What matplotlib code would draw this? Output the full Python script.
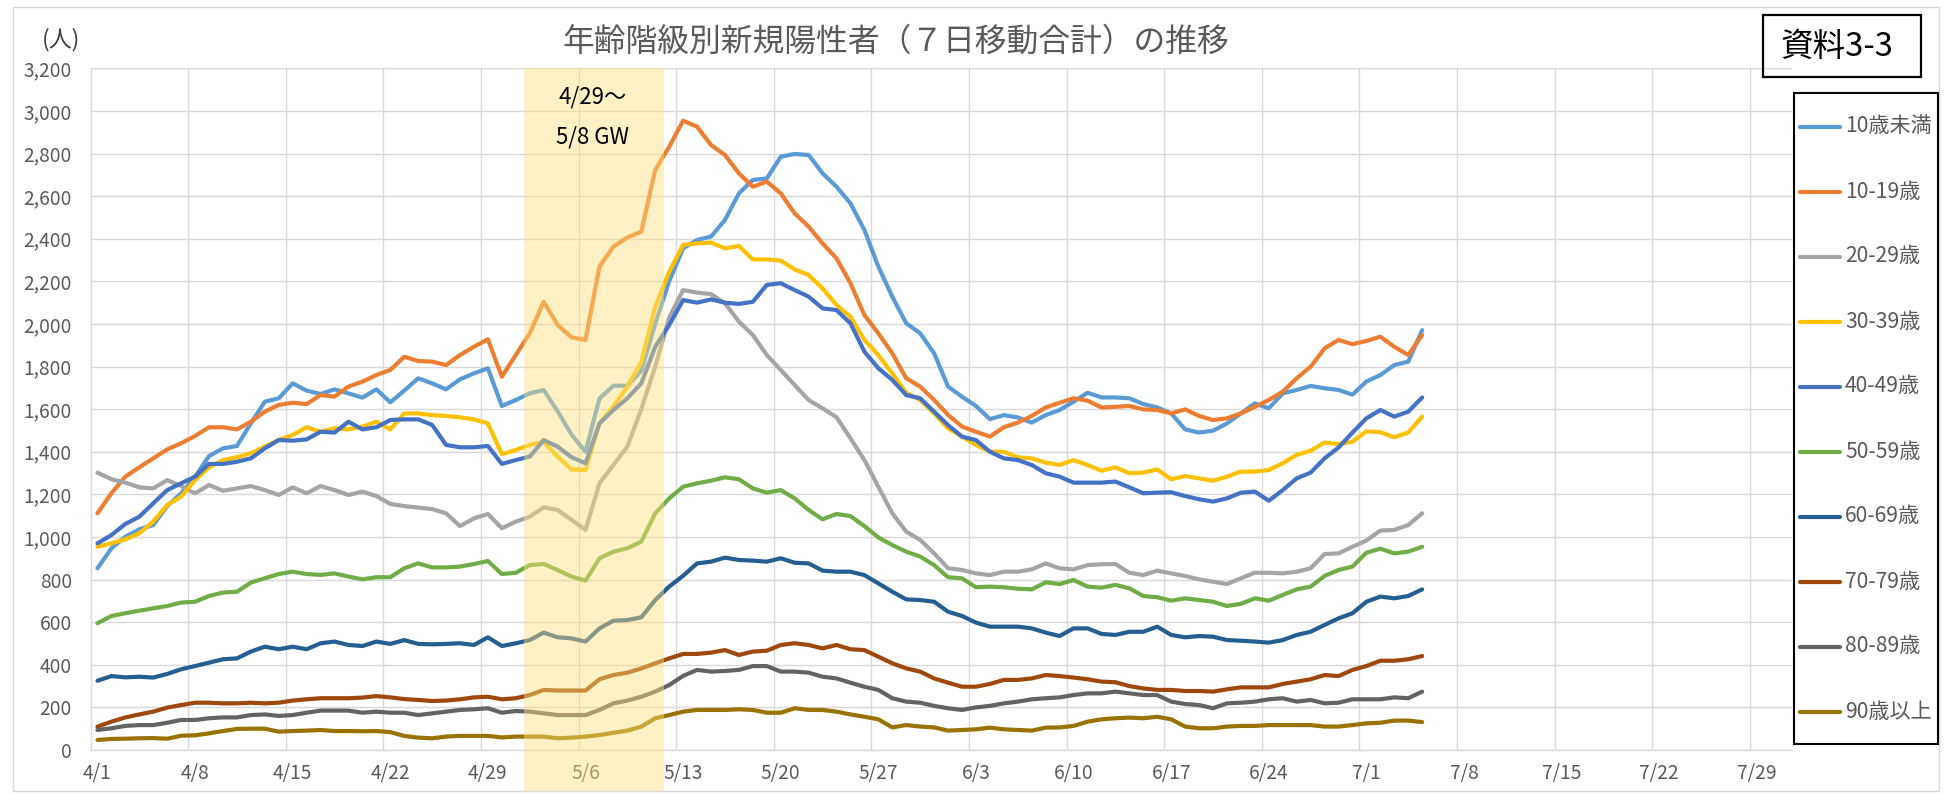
import matplotlib
matplotlib.use("Agg")
import matplotlib.pyplot as plt
from matplotlib.patches import Rectangle
from matplotlib.lines import Line2D
from matplotlib.ticker import FuncFormatter
from matplotlib.transforms import blended_transform_factory
import numpy as np
import pandas as pd

plt.rcParams['font.family'] = ['Noto Sans CJK JP', 'DejaVu Sans']

# ---------------- data ----------------
title = "年齢階級別新規陽性者（７日移動合計）の推移"
unit_label = "(人)"
doc_label = "資料3-3"
gw_label_1 = "4/29～"
gw_label_2 = "5/8 GW"
start_date = "2021-04-01"
axis_end_date = "2021-07-31"

labels = ["10歳未満", "10-19歳", "20-29歳", "30-39歳", "40-49歳",
          "50-59歳", "60-69歳", "70-79歳", "80-89歳", "90歳以上"]
colors = ["#5B9BD5", "#ED7D31", "#A5A5A5", "#FFC000", "#4472C4",
          "#70AD47", "#255E91", "#9E480E", "#636363", "#997300"]

age_u10 = [853, 947, 1001, 1036, 1056, 1145, 1205, 1283, 1380, 1416, 1427,
           1533, 1635, 1651, 1721, 1687, 1671, 1693, 1674, 1654, 1693,
           1632, 1687, 1745, 1721, 1693, 1740, 1768, 1792, 1615, 1643,
           1674, 1690, 1590, 1480, 1400, 1650, 1710, 1710, 1780, 2000,
           2200, 2355, 2394, 2410, 2488, 2613, 2676, 2683, 2785, 2798,
           2793, 2707, 2644, 2566, 2441, 2269, 2128, 2003, 1956, 1862,
           1706, 1658, 1615, 1553, 1572, 1561, 1537, 1572, 1596, 1635,
           1677, 1655, 1655, 1651, 1624, 1608, 1580, 1505, 1490, 1499,
           1533, 1580, 1627, 1604, 1674, 1690, 1709, 1698, 1690, 1668,
           1730, 1760, 1807, 1823, 1971]
age_10s = [1111, 1205, 1283, 1327, 1369, 1411, 1440, 1474, 1515, 1515, 1505,
           1541, 1588, 1620, 1630, 1624, 1666, 1659, 1706, 1729, 1760,
           1784, 1846, 1826, 1823, 1807, 1854, 1893, 1928, 1752, 1854,
           1956, 2104, 1995, 1937, 1925, 2269, 2363, 2406, 2433, 2723,
           2832, 2954, 2926, 2840, 2793, 2707, 2644, 2668, 2613, 2519,
           2457, 2378, 2308, 2191, 2042, 1956, 1862, 1745, 1706, 1643,
           1573, 1518, 1494, 1471, 1515, 1537, 1568, 1608, 1630, 1651,
           1640, 1608, 1611, 1615, 1599, 1596, 1580, 1599, 1568, 1549,
           1557, 1580, 1611, 1643, 1682, 1745, 1799, 1885, 1925, 1905,
           1920, 1940, 1893, 1854, 1948]
age_20s = [1302, 1271, 1255, 1233, 1228, 1267, 1239, 1205, 1244, 1217, 1228,
           1239, 1220, 1197, 1233, 1205, 1239, 1220, 1197, 1213, 1192,
           1155, 1145, 1138, 1131, 1111, 1051, 1087, 1108, 1041, 1072,
           1095, 1139, 1127, 1080, 1033, 1252, 1338, 1424, 1600, 1800,
           2030, 2159, 2147, 2140, 2097, 2011, 1948, 1854, 1784, 1713,
           1643, 1604, 1562, 1463, 1361, 1236, 1111, 1025, 986, 923,
           853, 845, 829, 821, 837, 837, 848, 876, 853, 848,
           868, 872, 873, 832, 821, 842, 829, 817, 801, 790,
           779, 806, 832, 832, 829, 837, 853, 920, 923, 954,
           983, 1030, 1033, 1056, 1111]
age_30s = [954, 970, 989, 1017, 1072, 1150, 1189, 1267, 1327, 1361, 1374,
           1393, 1424, 1455, 1479, 1515, 1494, 1510, 1505, 1518, 1541,
           1505, 1580, 1580, 1572, 1568, 1562, 1552, 1533, 1389, 1408,
           1432, 1447, 1377, 1317, 1314, 1533, 1612, 1706, 1820, 2080,
           2245, 2371, 2378, 2382, 2355, 2366, 2303, 2303, 2297, 2256,
           2230, 2167, 2089, 2034, 1925, 1854, 1768, 1677, 1643, 1580,
           1510, 1471, 1432, 1400, 1400, 1374, 1369, 1349, 1338, 1361,
           1338, 1311, 1327, 1299, 1302, 1317, 1271, 1286, 1275, 1264,
           1283, 1307, 1307, 1314, 1346, 1385, 1405, 1443, 1436, 1447,
           1496, 1492, 1468, 1490, 1565]
age_40s = [970, 1009, 1061, 1095, 1158, 1220, 1252, 1283, 1343, 1343, 1353,
           1369, 1416, 1455, 1452, 1458, 1494, 1490, 1541, 1505, 1515,
           1549, 1552, 1552, 1526, 1432, 1421, 1421, 1427, 1343, 1361,
           1377, 1455, 1424, 1374, 1346, 1533, 1596, 1651, 1721, 1893,
           1995, 2112, 2100, 2115, 2100, 2094, 2104, 2183, 2191, 2159,
           2128, 2073, 2065, 2003, 1870, 1792, 1737, 1666, 1651, 1588,
           1525, 1471, 1455, 1400, 1369, 1361, 1338, 1299, 1283, 1255,
           1255, 1255, 1260, 1233, 1205, 1208, 1210, 1192, 1177, 1166,
           1181, 1208, 1213, 1170, 1220, 1275, 1302, 1369, 1420, 1490,
           1557, 1596, 1565, 1588, 1655]
age_50s = [595, 629, 642, 654, 665, 676, 692, 696, 723, 739, 743,
           786, 806, 826, 837, 826, 822, 829, 814, 801, 811,
           811, 853, 876, 857, 857, 861, 873, 887, 826, 832,
           868, 873, 845, 814, 795, 900, 931, 947, 978, 1111,
           1181, 1236, 1252, 1264, 1280, 1271, 1228, 1208, 1220, 1181,
           1127, 1083, 1108, 1098, 1051, 998, 962, 931, 908, 868,
           811, 806, 764, 767, 764, 757, 754, 787, 779, 798,
           767, 762, 775, 759, 723, 717, 701, 712, 704, 696,
           676, 686, 712, 701, 728, 754, 767, 817, 845, 861,
           926, 945, 923, 931, 954]
age_60s = [325, 347, 341, 344, 340, 357, 379, 394, 410, 426, 430,
           462, 485, 473, 485, 473, 501, 509, 493, 488, 509,
           498, 516, 498, 496, 498, 501, 493, 529, 488, 501,
           516, 551, 529, 524, 509, 571, 607, 610, 623, 704,
           767, 818, 876, 884, 903, 892, 889, 884, 900, 879,
           876, 842, 837, 837, 821, 782, 743, 707, 704, 696,
           649, 629, 598, 579, 579, 579, 571, 551, 535, 571,
           571, 545, 540, 555, 555, 579, 540, 529, 535, 532,
           516, 513, 509, 504, 516, 540, 555, 587, 618, 642,
           696, 720, 712, 723, 754]
age_70s = [110, 133, 153, 167, 180, 199, 211, 222, 222, 219, 219,
           222, 219, 222, 232, 238, 243, 243, 243, 246, 253,
           247, 239, 235, 230, 232, 238, 247, 250, 238, 243,
           258, 282, 279, 279, 279, 332, 352, 363, 383, 407,
           430, 451, 451, 457, 469, 446, 462, 466, 493, 501,
           493, 477, 493, 473, 469, 438, 407, 383, 368, 336,
           316, 297, 297, 310, 329, 329, 336, 352, 347, 340,
           332, 321, 318, 300, 289, 282, 282, 277, 277, 274,
           285, 294, 294, 294, 310, 321, 332, 352, 347, 376,
           394, 419, 419, 426, 441]
age_80s = [94, 102, 113, 117, 117, 128, 141, 141, 149, 153, 153,
           164, 167, 160, 164, 175, 185, 185, 185, 175, 180,
           175, 175, 164, 172, 180, 188, 191, 196, 175, 183,
           180, 172, 164, 164, 164, 188, 219, 232, 250, 274,
           305, 348, 376, 368, 371, 376, 394, 394, 368, 368,
           363, 344, 336, 316, 297, 282, 243, 227, 222, 207,
           196, 188, 200, 207, 219, 227, 238, 243, 247, 258,
           266, 266, 274, 266, 258, 258, 227, 216, 211, 196,
           219, 222, 227, 238, 243, 227, 235, 219, 222, 238,
           238, 238, 247, 243, 274]
age_90p = [47, 52, 53, 55, 56, 53, 67, 69, 78, 89, 99,
           100, 100, 86, 89, 91, 94, 89, 89, 88, 89,
           84, 66, 58, 55, 63, 66, 66, 66, 59, 63,
           63, 63, 55, 58, 63, 70, 81, 91, 110, 149,
           164, 180, 188, 188, 188, 191, 188, 175, 175, 196,
           188, 188, 180, 167, 156, 144, 106, 117, 110, 106,
           91, 94, 97, 105, 97, 94, 91, 105, 106, 113,
           133, 144, 149, 152, 149, 156, 144, 110, 102, 102,
           110, 113, 113, 117, 117, 117, 117, 110, 110, 117,
           125, 128, 138, 138, 131]

series = [age_u10, age_10s, age_20s, age_30s, age_40s,
          age_50s, age_60s, age_70s, age_80s, age_90p]

# ---------------- layout helpers ----------------
W, H = 1944, 795
def fx(px):
    return px / W
def fy(py):
    return 1 - py / H

fig = plt.figure(figsize=(W / 100, H / 100), dpi=100)
fig.patch.set_facecolor("white")

# outer chart border
fig.add_artist(Rectangle((fx(13), fy(791)), fx(1939) - fx(13), fy(7) - fy(791),
                         transform=fig.transFigure, fill=False,
                         edgecolor="#D9D9D9", lw=1.0))

ax = fig.add_axes([fx(90.5), fy(750), fx(1791.7) - fx(90.5), fy(68.3) - fy(750)])

dates = pd.date_range(start_date, periods=len(age_u10), freq="D")
axis_days = pd.date_range(start_date, axis_end_date, freq="D")
x = np.arange(len(dates))

for lab, col, vals in zip(labels, colors, series):
    ax.plot(x, vals, color=col, lw=3.0, solid_joinstyle="round",
            solid_capstyle="round", zorder=3, label=lab)

ax.set_xlim(-0.5, len(axis_days) - 0.5)
ax.set_ylim(0, 3200)
ax.set_yticks(np.arange(0, 3201, 200))
ax.yaxis.set_major_formatter(FuncFormatter(lambda v, p: f"{int(v):,}"))

tick_idx = np.arange(0, len(axis_days), 7)
ax.set_xticks(tick_idx)
ax.set_xticklabels([f"{d.month}/{d.day}" for d in axis_days[tick_idx]])
ax.set_xticks(tick_idx[1:] - 0.5, minor=True)

ax.grid(axis="y", which="major", color="#D9D9D9", lw=1.0, zorder=1)
ax.grid(axis="x", which="minor", color="#D9D9D9", lw=1.0, zorder=1)
ax.grid(axis="x", which="major", visible=False)
ax.tick_params(which="both", length=0)
ax.tick_params(axis="y", pad=13.5, labelsize=13.8, labelcolor="#595959")
ax.tick_params(axis="x", pad=9, labelsize=13.8, labelcolor="#595959")
for s in ["top", "right"]:
    ax.spines[s].set_visible(False)
for s in ["left", "bottom"]:
    ax.spines[s].set_color("#D9D9D9")
    ax.spines[s].set_linewidth(1.0)

# GW shading (overlay, extends over tick labels)
gw_x0, gw_x1 = 30.6, 40.6
trans = blended_transform_factory(ax.transData, fig.transFigure)
ax.add_patch(Rectangle((gw_x0, fy(792)), gw_x1 - gw_x0, fy(68.3) - fy(792),
                       transform=trans, facecolor="#FFE07A", alpha=0.45,
                       edgecolor="none", zorder=5, clip_on=False))
gw_cx = (gw_x0 + gw_x1) / 2 - 0.1
ax.text(gw_cx, fy(97), gw_label_1, transform=trans, ha="center", va="center",
        fontsize=16, color="black", zorder=6)
ax.text(gw_cx, fy(137), gw_label_2, transform=trans, ha="center", va="center",
        fontsize=16, color="black", zorder=6)

# title and unit
fig.text(fx(896), fy(42), title, ha="center", va="center", fontsize=22.9,
         color="#595959")
fig.text(fx(61), fy(40), unit_label, ha="center", va="center", fontsize=16.5,
         color="#404040")

# document label box
fig.add_artist(Rectangle((fx(1763), fy(77)), fx(1921) - fx(1763), fy(15) - fy(77),
                         transform=fig.transFigure, fill=False,
                         edgecolor="black", lw=1.6))
fig.text(fx(1837), fy(47), doc_label, ha="center", va="center", fontsize=23.5,
         color="black")

# legend (manual, boxed)
fig.add_artist(Rectangle((fx(1793.7), fy(744.3)), fx(1937.7) - fx(1793.7),
                         fy(93.3) - fy(744.3), transform=fig.transFigure,
                         fill=False, edgecolor="black", lw=1.5))
for i, (lab, col) in enumerate(zip(labels, colors)):
    yy = fy(126.5 + 65 * i)
    fig.add_artist(Line2D([fx(1800), fx(1840)], [yy, yy], color=col, lw=3.0,
                          solid_capstyle="round", transform=fig.transFigure))
    fig.text(fx(1845), yy, lab, ha="left", va="center", fontsize=15.2,
             color="#595959")

fig.savefig("out.png", dpi=100)
